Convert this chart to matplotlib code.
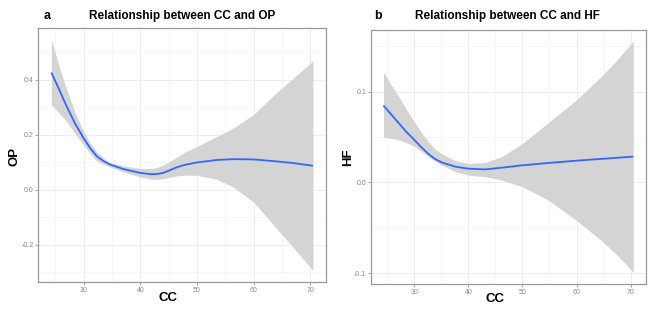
import matplotlib.pyplot as plt
from matplotlib.ticker import MultipleLocator

plt.rcParams['font.family'] = ['Liberation Sans', 'DejaVu Sans']
plt.rcParams['axes.unicode_minus'] = False

# Panel a: CC vs OP (smooth fit with confidence band)
cc_a = [24.3, 25.5, 27.0, 28.5, 30.0, 31.2, 32.3, 33.5, 34.6, 37.0, 40.0, 42.0, 43.0,
        44.0, 45.0, 46.4, 48.0, 50.0, 53.5, 56.4, 60.0, 64.0, 67.0, 70.5]
op_fit = [0.426, 0.372, 0.303, 0.240, 0.187, 0.150, 0.122, 0.104, 0.092, 0.075, 0.061,
          0.056, 0.057, 0.061, 0.069, 0.081, 0.091, 0.099, 0.108, 0.111, 0.110, 0.103,
          0.097, 0.087]
op_upper = [0.546, 0.460, 0.365, 0.280, 0.212, 0.168, 0.138, 0.115, 0.099, 0.087, 0.077,
            0.077, 0.081, 0.089, 0.100, 0.118, 0.138, 0.157, 0.193, 0.224, 0.273, 0.352,
            0.405, 0.468]
op_lower = [0.309, 0.283, 0.248, 0.203, 0.163, 0.130, 0.105, 0.092, 0.083, 0.065, 0.046,
            0.038, 0.038, 0.040, 0.044, 0.050, 0.053, 0.052, 0.038, 0.010, -0.045, -0.140,
            -0.210, -0.294]

# Panel b: CC vs HF
cc_b = [24.3, 25.7, 27.1, 28.5, 30.0, 31.3, 32.6, 33.8, 35.1, 37.6, 40.0, 43.1, 46.2,
        50.0, 54.8, 60.0, 64.6, 67.5, 70.5]
hf_fit = [0.0848, 0.0752, 0.0656, 0.0560, 0.0470, 0.0388, 0.0315, 0.0260, 0.0220, 0.0174,
          0.0152, 0.0144, 0.0163, 0.0189, 0.0215, 0.0240, 0.0260, 0.0272, 0.0285]
hf_upper = [0.122, 0.108, 0.095, 0.081, 0.067, 0.055, 0.045, 0.037, 0.0315, 0.024, 0.021,
            0.022, 0.0285, 0.043, 0.066, 0.091, 0.117, 0.135, 0.156]
hf_lower = [0.050, 0.0485, 0.047, 0.044, 0.040, 0.0345, 0.0285, 0.0235, 0.019, 0.0119,
            0.0081, 0.0063, 0.0026, -0.0048, -0.0196, -0.042, -0.064, -0.080, -0.099]

x_ticks = [30, 40, 50, 60, 70]

fig = plt.figure(figsize=(6.69, 3.25), dpi=100)
ax_a = fig.add_axes([0.0573, 0.133, 0.430, 0.780])
ax_b = fig.add_axes([0.5546, 0.126, 0.4106, 0.7815])

panels = [
    (ax_a, cc_a, op_fit, op_upper, op_lower, (-0.335, 0.587), 0.2, 0.1),
    (ax_b, cc_b, hf_fit, hf_upper, hf_lower, (-0.112, 0.168), 0.1, 0.05),
]

for ax, x, fit, up, lo, ylim, major, minor in panels:
    ax.fill_between(x, lo, up, color='#d4d4d4', lw=0, zorder=2)
    ax.plot(x, fit, color='#3366ff', lw=1.3, zorder=3, solid_capstyle='butt')
    ax.set_xlim(22.0, 72.8)
    ax.set_ylim(*ylim)
    ax.set_xticks(x_ticks)
    ax.xaxis.set_minor_locator(MultipleLocator(5))
    ax.yaxis.set_major_locator(MultipleLocator(major))
    ax.yaxis.set_minor_locator(MultipleLocator(minor))
    ax.grid(which='major', color='#ebebeb', lw=0.6, zorder=0)
    ax.grid(which='minor', color='#f3f3f3', lw=0.5, zorder=0)
    ax.set_axisbelow(True)
    ax.tick_params(which='major', length=2, width=0.6, color='#999999',
                   labelsize=5, labelcolor='#8a8a8a', pad=1.5)
    ax.tick_params(which='minor', length=0)
    for s in ax.spines.values():
        s.set_color('#999999')
        s.set_linewidth(0.9)

# titles and labels
fig.text(46.7 / 669, 1 - 16 / 325, 'a', fontsize=9, fontweight='bold', ha='center', va='center')
fig.text(182.5 / 669, 1 - 16 / 325, 'Relationship between CC and OP', fontsize=8.5,
         fontweight='bold', ha='center', va='center')
fig.text(378 / 669, 1 - 16 / 325, 'b', fontsize=9, fontweight='bold', ha='center', va='center')
fig.text(507.5 / 669, 1 - 16 / 325, 'Relationship between CC and HF', fontsize=8.5,
         fontweight='bold', ha='center', va='center')

fig.text(168 / 669, 1 - 298 / 325, 'CC', fontsize=9.5, fontweight='bold', ha='center', va='center')
fig.text(495 / 669, 1 - 299 / 325, 'CC', fontsize=9.5, fontweight='bold', ha='center', va='center')
fig.text(14 / 669, 1 - 156 / 325, 'OP', fontsize=9.5, fontweight='bold', rotation=90,
         ha='center', va='center')
fig.text(347.7 / 669, 1 - 157 / 325, 'HF', fontsize=9.5, fontweight='bold', rotation=90,
         ha='center', va='center')

fig.savefig('out.png', dpi=100)
